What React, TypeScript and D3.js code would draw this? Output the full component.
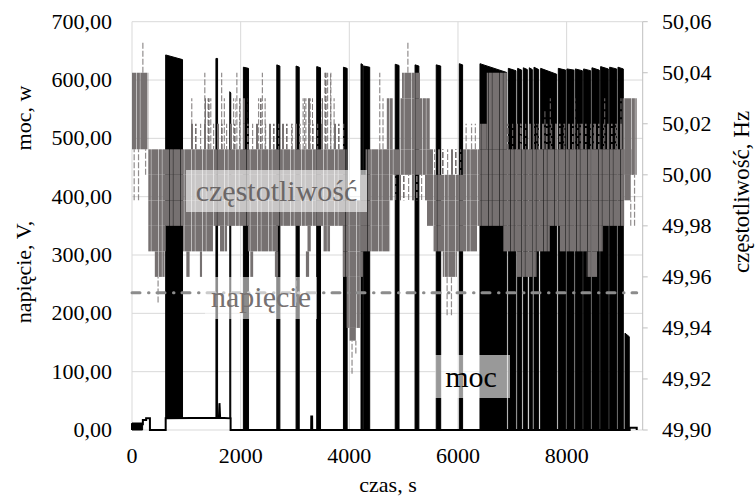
import React from 'react';
import * as d3 from 'd3';

const WIDTH = 756;
const HEIGHT = 497;
const PLOT = { left: 132, right: 642.7, top: 21.7, bottom: 430 };
const FONT = '"Liberation Serif", Tinos, "DejaVu Serif", serif';
const GRAY = '#767171';

// axes
const timeTicks = [0, 2000, 4000, 6000, 8000];
const powerTicks = [0, 100, 200, 300, 400, 500, 600, 700];
const freqTicks = [49.9, 49.92, 49.94, 49.96, 49.98, 50.0, 50.02, 50.04, 50.06];

// moc - baseline trace [t, W]
const mocLine: [number, number][] = [
    [0, 0], [0, 10], [200, 10], [200, 17], [260, 17], [260, 20], [330, 20], [330, 0],
    [620, 0], [620, 20], [1600, 21], [1610, 46], [1622, 21], [1815, 20], [1815, 0],
    [3298, 0], [3300, 23], [3315, 23], [3317, 0], [9160, 0], [9160, 4], [9290, 4], [9290, 0],
];

// moc - dense on/off switching: [tStart, tEnd, base, topStart, topEnd]
const mocBlocks: [number, number, number, number, number][] = [
    [0, 195, 0, 12, 12],
    [620, 930, 20, 643, 635],
    [1545, 1575, 20, 637, 637],
    [1800, 1818, 20, 580, 578],
    [2050, 2145, 0, 622, 620],
    [2665, 2722, 0, 626, 624],
    [3020, 3078, 0, 624, 622],
    [3400, 3470, 0, 623, 621],
    [3892, 3960, 0, 622, 620],
    [4215, 4250, 0, 628, 626],
    [4265, 4375, 0, 624, 622],
    [4845, 4915, 0, 627, 625],
    [5210, 5280, 0, 626, 624],
    [5600, 5682, 0, 626, 624],
    [6025, 6085, 0, 628, 626],
    [6405, 6896, 0, 628, 613],
    [6927, 7067, 0, 620, 616],
    [7098, 7172, 0, 620, 617],
    [7203, 7276, 0, 621, 618],
    [7313, 7368, 0, 621, 618],
    [7399, 7485, 0, 622, 618],
    [7522, 7816, 0, 620, 610],
    [7847, 7982, 0, 620, 617],
    [8006, 8135, 0, 619, 617],
    [8160, 8289, 0, 619, 616],
    [8313, 8442, 0, 619, 616],
    [8466, 8601, 0, 621, 617],
    [8626, 8767, 0, 623, 619],
    [8792, 8920, 0, 622, 619],
    [8945, 9043, 0, 622, 619],
    [9074, 9153, 0, 166, 160],
];

// częstotliwość - bands of fast oscillation: [tStart, tEnd, low, high] Hz
const freqBands: [number, number, number, number][] = [
    [0, 300, 50.01, 50.04],
    [300, 3950, 50.0, 50.01],
    [4300, 5540, 50.0, 50.01],
    [6090, 9220, 50.0, 50.01],
    [300, 3950, 49.99, 50.0],
    [4200, 4800, 49.99, 50.0],
    [5430, 9180, 49.99, 50.0],
    [300, 4750, 49.98, 49.99],
    [5430, 9060, 49.98, 49.99],
    [300, 620, 49.97, 49.98],
    [940, 1490, 49.97, 49.98],
    [1620, 1750, 49.97, 49.98],
    [2134, 2686, 49.97, 49.98],
    [3230, 3290, 49.97, 49.98],
    [3515, 3645, 49.97, 49.98],
    [3880, 4750, 49.97, 49.98],
    [5540, 6350, 49.97, 49.98],
    [6830, 7690, 49.97, 49.98],
    [7875, 8670, 49.97, 49.98],
    [420, 600, 49.96, 49.97],
    [1000, 1060, 49.96, 49.97],
    [1250, 1290, 49.96, 49.97],
    [2170, 2230, 49.96, 49.97],
    [2630, 2690, 49.96, 49.97],
    [3200, 3260, 49.96, 49.97],
    [3880, 4250, 49.96, 49.97],
    [5720, 5980, 49.96, 49.97],
    [7080, 7450, 49.96, 49.97],
    [8370, 8560, 49.96, 49.97],
    [3950, 4200, 49.94, 49.96],
    [4000, 4120, 49.935, 49.94],
    [4690, 4800, 50.01, 50.03],
    [4930, 5480, 50.01, 50.03],
    [4970, 5300, 50.03, 50.04],
    [6400, 6530, 50.01, 50.02],
    [6530, 6900, 50.01, 50.04],
    [9030, 9290, 50.0, 50.03],
];

// częstotliwość - occasional excursions, loosely packed: [tStart, tEnd, low, high] Hz
const freqSparse: [number, number, number, number][] = [
    [1050, 3950, 50.01, 50.02],
    [1340, 1470, 50.02, 50.03],
    [1900, 2120, 50.02, 50.03],
    [2320, 2450, 50.02, 50.03],
    [3146, 3330, 50.02, 50.03],
    [3496, 3680, 50.02, 50.03],
    [3550, 3660, 50.03, 50.04],
    [6900, 9030, 50.01, 50.02],
    [5540, 6090, 50.0, 50.01],
    [4800, 5430, 49.99, 50.0],
];

// częstotliwość - single excursions: [t, low, high] Hz
const freqSpikes: [number, number, number][] = [
    [40, 49.99, 50.01], [120, 49.99, 50.01], [250, 50.0, 50.01], [200, 50.04, 50.052],
    [1100, 50.01, 50.03], [1340, 50.01, 50.04], [1400, 50.01, 50.03], [1450, 50.01, 50.03],
    [1650, 50.01, 50.04], [1700, 50.01, 50.03], [1870, 50.01, 50.03], [1930, 50.01, 50.04],
    [1990, 50.01, 50.03], [2330, 50.01, 50.03], [2400, 50.01, 50.04], [2450, 50.01, 50.03],
    [2950, 50.01, 50.02], [3150, 50.01, 50.03], [3200, 50.01, 50.03], [3280, 50.01, 50.03],
    [3500, 50.01, 50.03], [3550, 50.01, 50.04], [3600, 50.01, 50.04], [3660, 50.01, 50.04],
    [3720, 50.01, 50.03], [4560, 50.01, 50.04], [4620, 50.01, 50.03], [5078, 50.04, 50.052],
    [6150, 50.01, 50.02], [6250, 50.01, 50.02], [6320, 50.01, 50.02],
    [7150, 50.01, 50.02], [7450, 50.01, 50.02], [7600, 50.01, 50.025], [7700, 50.01, 50.03],
    [7800, 50.01, 50.02], [7950, 50.01, 50.02], [8150, 50.01, 50.03], [8250, 50.01, 50.02],
    [8500, 50.01, 50.02], [8700, 50.01, 50.03], [8900, 50.01, 50.02], [9000, 50.01, 50.03],
    [480, 49.95, 49.96], [3020, 49.95, 49.96], [4050, 49.922, 49.935], [4120, 49.93, 49.935],
    [5800, 49.945, 49.96], [5880, 49.945, 49.96], [9250, 49.98, 50.0], [9180, 49.98, 49.99],
];

// napięcie [t, V]
const voltT = [0, 2000, 4000, 6000, 8000, 9290];
const voltV = [235.5, 235.5, 235.5, 235.5, 235.5, 235.5];

const fmt2 = (v: number) => v.toFixed(2).replace('.', ',');

export default function App() {
    const x = d3.scaleLinear().domain([0, 9400]).range([PLOT.left, PLOT.right]);
    const yP = d3.scaleLinear().domain([0, 700]).range([PLOT.bottom, PLOT.top]);
    const yF = d3.scaleLinear().domain([49.9, 50.06]).range([PLOT.bottom, PLOT.top]);

    const mocPath = d3.line<[number, number]>().x(d => x(d[0])).y(d => yP(d[1]))(mocLine) || '';
    const blockPath = (b: [number, number, number, number, number]) =>
        d3.line<[number, number]>().x(d => x(d[0])).y(d => yP(d[1]))([
            [b[0], b[2]], [b[0], b[3]], [b[1], b[4]], [b[1], b[2]],
        ]) + 'Z';
    const voltPath = d3.line<number>().x((_, i) => x(voltT[i])).y(d => yP(d))(voltV) || '';

    const txt = { fontFamily: FONT };

    const band = (b: [number, number, number, number], key: string, fill: string) => (
        <rect key={key} x={x(b[0])} width={x(b[1]) - x(b[0])} y={yF(b[3])}
            height={yF(b[2]) - yF(b[3])} fill={fill} />
    );

    return (
        <svg width={WIDTH} height={HEIGHT} style={{ position: 'absolute', left: 0, top: 0, background: '#fff', fontFamily: FONT }}>
            <defs>
                <pattern id="fq" width="11" height="10" patternUnits="userSpaceOnUse">
                    <rect x="0" y="0" width="4.4" height="10" fill={GRAY} />
                    <rect x="4.9" y="0" width="3" height="10" fill={GRAY} />
                    <rect x="8.3" y="0" width="2.7" height="10" fill={GRAY} />
                </pattern>
                <pattern id="fqs" width="13" height="8" patternUnits="userSpaceOnUse">
                    <rect x="0" y="0" width="1.6" height="6" fill={GRAY} />
                    <rect x="5" y="2" width="1.2" height="6" fill={GRAY} fillOpacity={0.8} />
                    <rect x="9" y="0" width="2" height="8" fill={GRAY} />
                </pattern>
            </defs>

            {/* grid */}
            {powerTicks.map(v => (
                <line key={'h' + v} x1={PLOT.left} x2={PLOT.right} y1={yP(v)} y2={yP(v)} stroke="#d9d9d9" />
            ))}
            {timeTicks.map(t => (
                <line key={'v' + t} x1={x(t)} x2={x(t)} y1={PLOT.top} y2={PLOT.bottom} stroke="#d9d9d9" />
            ))}
            <line x1={PLOT.right} x2={PLOT.right} y1={PLOT.top} y2={PLOT.bottom} stroke="#bfbfbf" />
            {freqTicks.map(v => (
                <line key={'t' + v} x1={PLOT.right} x2={PLOT.right + 5} y1={yF(v)} y2={yF(v)} stroke="#bfbfbf" />
            ))}

            {/* moc */}
            {mocBlocks.map((b, i) => (
                <path key={'b' + i} d={blockPath(b)} fill="#000" stroke="#000" strokeWidth={1} />
            ))}
            <path d={mocPath} fill="none" stroke="#000" strokeWidth={2} />

            {/* częstotliwość */}
            {freqSparse.map((b, i) => band(b, 'fs' + i, 'url(#fqs)'))}
            {freqBands.map((b, i) => band(b, 'f' + i, 'url(#fq)'))}
            {freqSpikes.map((s, i) => (
                <line key={'s' + i} x1={x(s[0])} x2={x(s[0])} y1={yF(s[1])} y2={yF(s[2])}
                    stroke={GRAY} strokeWidth={1.2} strokeDasharray="6 2" strokeOpacity={0.8} />
            ))}

            {/* napięcie */}
            <path d={voltPath} fill="none" stroke="#8c8c8c" strokeWidth={3} strokeLinecap="round"
                strokeDasharray="8 8.5 0.5 8" />

            {/* series labels */}
            <rect x={186} y={170} width={181} height={42} fill="#fff" fillOpacity={0.6} />
            <text style={txt} x={276.5} y={201} fontSize={30} textAnchor="middle" fill="#6b6767">częstotliwość</text>
            <rect x={205} y={277} width={112} height={42} fill="#fff" fillOpacity={0.55} />
            <text style={txt} x={261} y={307} fontSize={30} textAnchor="middle" fill={GRAY}>napięcie</text>
            <rect x={435} y={355} width={75} height={43} fill="#fff" fillOpacity={0.6} />
            <text style={txt} x={471} y={387} fontSize={30} textAnchor="middle" fill="#000">moc</text>

            {/* tick labels */}
            {powerTicks.map(v => (
                <text style={txt} key={'pl' + v} x={112} y={yP(v) + 7} fontSize={22} textAnchor="end" fill="#000">{fmt2(v)}</text>
            ))}
            {freqTicks.map(v => (
                <text style={txt} key={'fl' + v} x={662} y={yF(v) + 7} fontSize={22} textAnchor="start" fill="#000">{fmt2(v)}</text>
            ))}
            {timeTicks.map(t => (
                <text style={txt} key={'tl' + t} x={x(t)} y={463} fontSize={22} textAnchor="middle" fill="#000">{t}</text>
            ))}

            {/* axis titles */}
            <text style={txt} transform="translate(31,118) rotate(-90)" fontSize={22} textAnchor="middle">moc, w</text>
            <text style={txt} transform="translate(31,272) rotate(-90)" fontSize={22} textAnchor="middle">napięcie, V,</text>
            <text style={txt} transform="translate(749,192) rotate(-90)" fontSize={23} textAnchor="middle">częstotliwość, Hz</text>
            <text style={txt} x={388} y={492} fontSize={22} textAnchor="middle">czas, s</text>
        </svg>
    );
}
